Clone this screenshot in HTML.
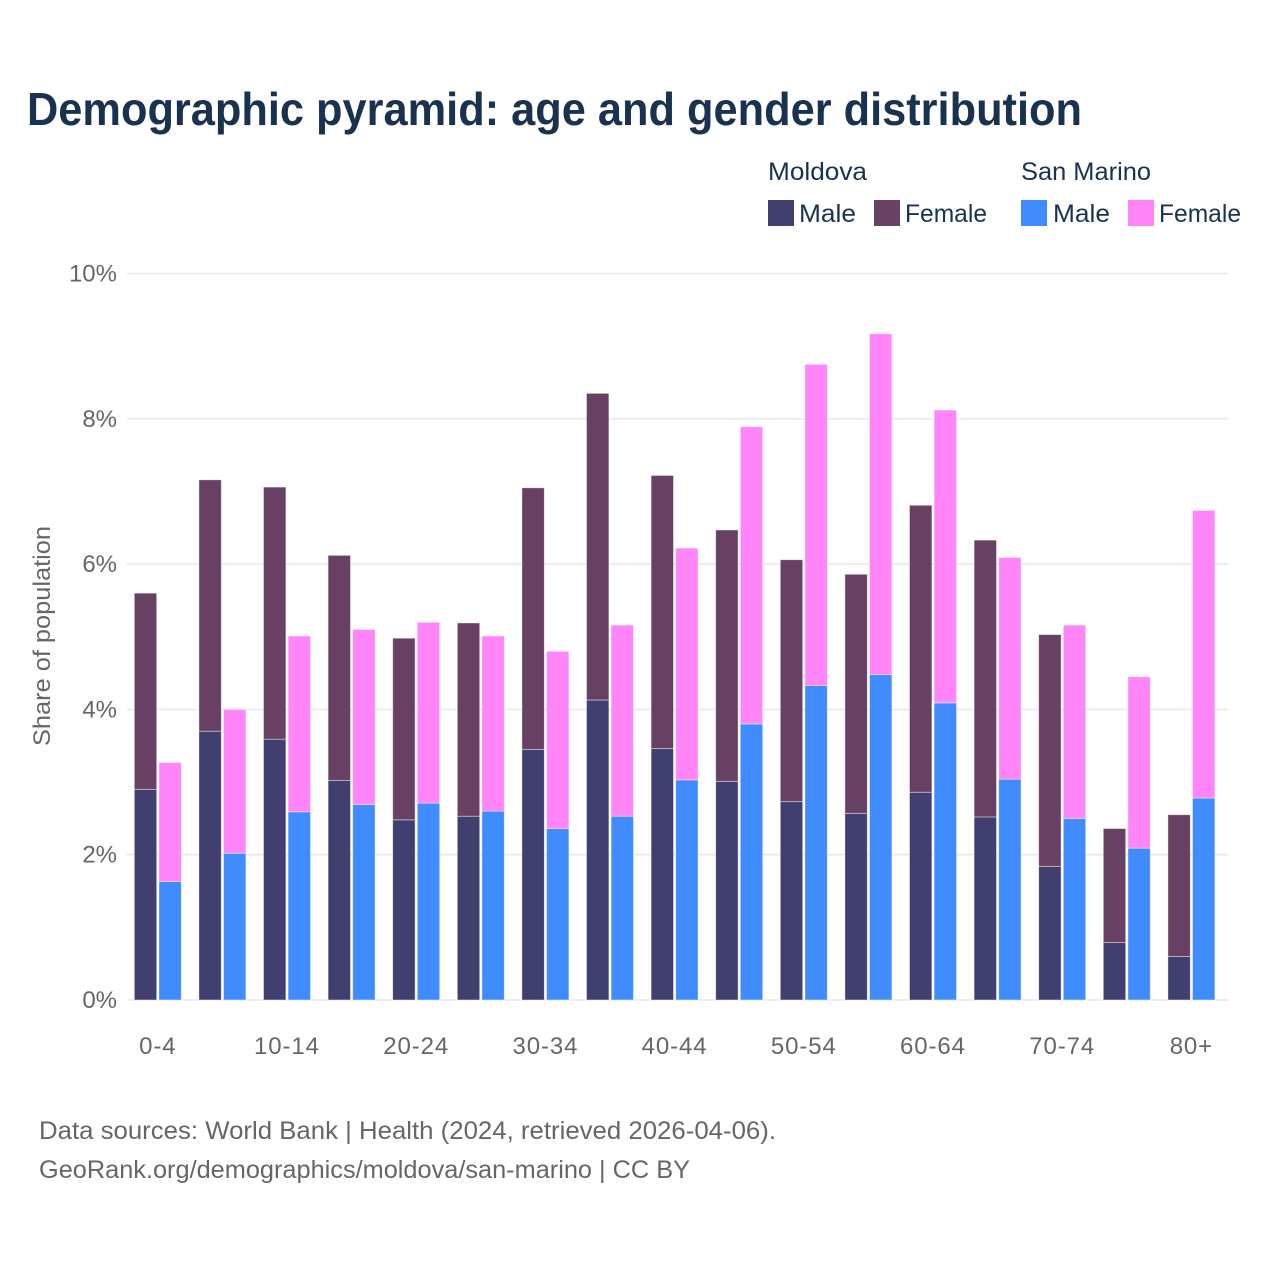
<!DOCTYPE html>
<html lang="en">
<head>
<meta charset="utf-8">
<title>Demographic pyramid</title>
<style>
html,body{margin:0;padding:0;background:#fff;}
svg{display:block;font-family:"Liberation Sans",sans-serif;}
</style>
</head>
<body>
<svg id="chart" xmlns="http://www.w3.org/2000/svg" width="1280" height="1280" viewBox="0 0 1280 1280">
  <rect x="0" y="0" width="1280" height="1280" fill="#ffffff"/>
  <text x="27" y="125" font-size="46" font-weight="700" fill="#18324f" textLength="1055" lengthAdjust="spacingAndGlyphs">Demographic pyramid: age and gender distribution</text>

  <g fill="#18324f" font-size="25">
    <text x="768" y="180" textLength="99" lengthAdjust="spacingAndGlyphs">Moldova</text>
    <text x="1021" y="180" textLength="130" lengthAdjust="spacingAndGlyphs">San Marino</text>
    <rect x="768" y="200" width="26" height="26" fill="#403f6f"/>
    <text x="799" y="222" textLength="57" lengthAdjust="spacingAndGlyphs">Male</text>
    <rect x="874" y="200" width="26" height="26" fill="#674064"/>
    <text x="905" y="222" textLength="82" lengthAdjust="spacingAndGlyphs">Female</text>
    <rect x="1021" y="200" width="26" height="26" fill="#408cff"/>
    <text x="1053" y="222" textLength="57" lengthAdjust="spacingAndGlyphs">Male</text>
    <rect x="1128" y="200" width="26" height="26" fill="#ff85f9"/>
    <text x="1159" y="222" textLength="82" lengthAdjust="spacingAndGlyphs">Female</text>
  </g>

  <g id="grid"></g>
  <g id="yticks"></g>
  <g id="bars"></g>
  <g id="xticks"></g>

  <text transform="translate(50,636) rotate(-90)" text-anchor="middle" font-size="24" fill="#666666" textLength="220" lengthAdjust="spacingAndGlyphs">Share of population</text>

  <text x="39" y="1139" font-size="25" fill="#666666" textLength="737" lengthAdjust="spacingAndGlyphs">Data sources: World Bank | Health (2024, retrieved 2026-04-06).</text>
  <text x="39" y="1178" font-size="25" fill="#666666" textLength="651" lengthAdjust="spacingAndGlyphs">GeoRank.org/demographics/moldova/san-marino | CC BY</text>
</svg>
<script>
const categories = ['0-4','5-9','10-14','15-19','20-24','25-29','30-34','35-39','40-44','45-49','50-54','55-59','60-64','65-69','70-74','75-79','80+'];
const moldovaMale = [2.90,3.70,3.59,3.02,2.48,2.53,3.45,4.13,3.46,3.01,2.73,2.57,2.86,2.52,1.84,0.79,0.60];
const moldovaFemale = [2.70,3.46,3.47,3.10,2.50,2.66,3.60,4.22,3.76,3.46,3.33,3.29,3.95,3.81,3.19,1.57,1.95];
const sanMarinoMale = [1.63,2.02,2.59,2.69,2.71,2.60,2.36,2.53,3.03,3.80,4.33,4.48,4.09,3.04,2.50,2.09,2.78];
const sanMarinoFemale = [1.64,1.98,2.42,2.41,2.49,2.41,2.44,2.63,3.19,4.09,4.42,4.69,4.03,3.05,2.66,2.36,3.96];
const yTickValues = [0,2,4,6,8,10];
const yTickLabels = ['0%','2%','4%','6%','8%','10%'];

const NS = 'http://www.w3.org/2000/svg';
const bandStart = 125.5, bandStep = 64.6, barWidth = 22.4, barGap = 2.2;
const yBase = 1000, yPerUnit = 72.65;
function yScale(v){ return yBase - v * yPerUnit; }
function groupCenter(i){ return bandStart + bandStep * (i + 0.5); }

function make(tag, attrs, parent){
  const el = document.createElementNS(NS, tag);
  for (const k in attrs) el.setAttribute(k, attrs[k]);
  parent.appendChild(el);
  return el;
}

const grid = document.getElementById('grid');
const yticks = document.getElementById('yticks');
const bars = document.getElementById('bars');
const xticks = document.getElementById('xticks');

yTickValues.forEach(function(v, i){
  const line = make('line', {x1:127, x2:1228, y1:yScale(v), y2:yScale(v), stroke:'#e9e9ed', 'stroke-width':1.6}, grid);
  
  
  const t = make('text', {x:117, y:yScale(v)+8, 'text-anchor':'end', 'font-size':24, fill:'#666666'}, yticks);
  t.textContent = yTickLabels[i];
  
  
});

function drawBar(x, low, high, fill, name){
  const r = make('rect', {x:x, y:yScale(high), width:barWidth, height:yScale(low)-yScale(high), fill:fill, stroke:'#ffffff', 'stroke-opacity':0.55, 'stroke-width':0.8}, bars);
  
  
}

categories.forEach(function(c, i){
  const cx = groupCenter(i);
  const xM = cx - barGap / 2 - barWidth;
  const xS = cx + barGap / 2;
  drawBar(xM, 0, moldovaMale[i], '#403f6f', 'bar-moldova-male');
  drawBar(xM, moldovaMale[i], moldovaMale[i] + moldovaFemale[i], '#674064', 'bar-moldova-female');
  drawBar(xS, 0, sanMarinoMale[i], '#408cff', 'bar-san-marino-male');
  drawBar(xS, sanMarinoMale[i], sanMarinoMale[i] + sanMarinoFemale[i], '#ff85f9', 'bar-san-marino-female');
  if (i % 2 === 0) {
    const t = make('text', {x:cx, y:1054, 'text-anchor':'middle', 'font-size':24, 'letter-spacing':'0.9', fill:'#666666'}, xticks);
    t.textContent = c;
    
    
  }
});
</script>
</body>
</html>
